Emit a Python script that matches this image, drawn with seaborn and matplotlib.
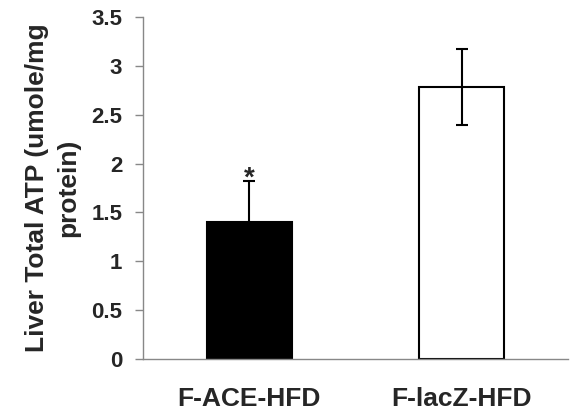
import matplotlib
matplotlib.use("Agg")
import matplotlib.pyplot as plt
import seaborn as sns
import pandas as pd

# data
groups = ["F-ACE-HFD", "F-lacZ-HFD"]
atp = [1.40, 2.785]
atp_err = [0.42, 0.385]
bar_colors = ["black", "white"]

sns.set_style("white")
plt.rcParams["font.family"] = ["Liberation Sans", "DejaVu Sans"]
plt.rcParams["font.weight"] = "bold"

df = pd.DataFrame({"group": groups, "atp": atp})

fig = plt.figure(figsize=(5.70, 4.17), dpi=100)
ax = fig.add_axes([0.251, 0.139, 0.745, 0.820])

sns.barplot(data=df, x="group", y="atp", hue="group", palette=bar_colors,
            width=0.4, edgecolor="black", linewidth=1.5, legend=False, ax=ax)
ax.errorbar(range(len(groups)), atp, yerr=atp_err, fmt="none",
            ecolor="black", elinewidth=1.5, capsize=4, capthick=1.5)

# significance mark
ax.text(0, atp[0] + atp_err[0] - 0.11, "*", ha="center", va="bottom",
        fontsize=20, fontweight="bold")

ax.set_ylim(0, 3.5)
ax.set_xlim(-0.5, 1.5)
ax.set_yticks([0, 0.5, 1, 1.5, 2, 2.5, 3, 3.5])
ax.set_yticklabels(["0", "0.5", "1", "1.5", "2", "2.5", "3", "3.5"])
ax.set_xlabel("")
ax.set_ylabel("Liver Total ATP (umole/mg\nprotein)", fontsize=19,
              fontweight="bold", labelpad=8, linespacing=1.4)

ax.set_xticks([0, 1])
ax.set_xticks([-0.5, 0.5, 1.5], minor=True)
ax.tick_params(axis="x", which="major", length=0, pad=20, labelsize=19)
ax.tick_params(axis="x", which="minor", length=6, direction="out",
               color="#888888", width=1)
ax.tick_params(axis="y", length=6, direction="out", color="#888888",
               width=1, labelsize=16, pad=9, left=True)
for lab in ax.get_xticklabels() + ax.get_yticklabels():
    lab.set_fontweight("bold")

sns.despine(ax=ax, top=True, right=True)
for side in ["left", "bottom"]:
    ax.spines[side].set_color("#888888")
    ax.spines[side].set_linewidth(1)

fig.savefig("out.png", dpi=100)
